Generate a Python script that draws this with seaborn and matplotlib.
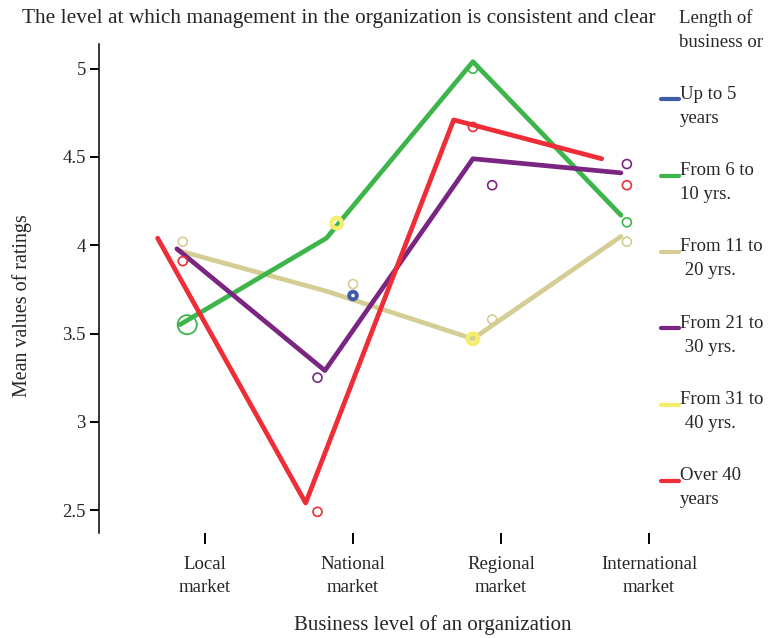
import pandas as pd
import matplotlib
matplotlib.use('Agg')
import matplotlib.pyplot as plt
from matplotlib.lines import Line2D
import seaborn as sns

sns.set_style('white')
plt.rcParams['font.family'] = ['Liberation Serif', 'DejaVu Serif']

# categories on the x axis
markets = ['Local\nmarket', 'National\nmarket', 'Regional\nmarket', 'International\nmarket']

# legend groups and colours
groups = ['Up to 5\nyears', 'From 6 to\n10 yrs.', 'From 11 to\n 20 yrs.',
          'From 21 to\n 30 yrs.', 'From 31 to\n 40 yrs.', 'Over 40\nyears']
colors = ['#3e5ca8', '#3db54a', '#d4ce94', '#7a2581', '#f4ed6e', '#ee2d37']

# lines (the original draws them shifted to the left of the ticks)
tan_line_x = [-0.18, 0.82, 1.81, 2.81]
tan_line_y = [3.97, 3.74, 3.47, 4.05]
green_line_x = [-0.17, 0.82, 1.81, 2.81]
green_line_y = [3.55, 4.04, 5.04, 4.17]
purple_line_x = [-0.19, 0.81, 1.81, 2.81]
purple_line_y = [3.98, 3.29, 4.49, 4.41]
red_line_x = [-0.32, 0.68, 1.68, 2.68]
red_line_y = [4.04, 2.54, 4.71, 4.49]

# point means (hollow circles)
tan_pt_x = [-0.15, 1.00, 1.94, 2.85]
tan_pt_y = [4.02, 3.78, 3.58, 4.02]
red_pt_x = [-0.15, 0.76, 1.81, 2.85]
red_pt_y = [3.91, 2.49, 4.67, 4.34]
purple_pt_x = [0.76, 1.94, 2.85]
purple_pt_y = [3.25, 4.34, 4.46]
green_pt_x = [-0.12, 1.81, 2.85]
green_pt_y = [3.55, 5.00, 4.13]
blue_pt_x = [1.00]
blue_pt_y = [3.715]
yellow_pt_x = [0.89, 1.81]
yellow_pt_y = [4.125, 3.47]

lines = pd.concat([
    pd.DataFrame({'x': tan_line_x, 'y': tan_line_y, 'g': groups[2]}),
    pd.DataFrame({'x': green_line_x, 'y': green_line_y, 'g': groups[1]}),
    pd.DataFrame({'x': purple_line_x, 'y': purple_line_y, 'g': groups[3]}),
    pd.DataFrame({'x': red_line_x, 'y': red_line_y, 'g': groups[5]}),
])
pal = dict(zip(groups, colors))

fig = plt.figure(figsize=(7.69, 6.38), dpi=100)
ax = fig.add_axes([99 / 769, 1 - 533 / 638, 556 / 769, 489 / 638])

sns.lineplot(data=lines, x='x', y='y', hue='g', palette=pal, sort=False,
             estimator=None, linewidth=3.4, legend=False, ax=ax)

# regular hollow markers
for px, py, c in [(tan_pt_x, tan_pt_y, colors[2]), (red_pt_x, red_pt_y, colors[5]),
                  (purple_pt_x, purple_pt_y, colors[3]), (green_pt_x[1:], green_pt_y[1:], colors[1])]:
    sns.scatterplot(x=px, y=py, s=42, facecolors='none', edgecolor=c, linewidth=1.2,
                    zorder=4, legend=False, ax=ax)
# big green one at Local market
sns.scatterplot(x=green_pt_x[:1], y=green_pt_y[:1], s=190, facecolors='none',
                edgecolor=colors[1], linewidth=1.3, zorder=4, legend=False, ax=ax)
# thick rings
sns.scatterplot(x=blue_pt_x, y=blue_pt_y, s=30, facecolors='none', edgecolor=colors[0],
                linewidth=2.8, zorder=5, legend=False, ax=ax)
sns.scatterplot(x=yellow_pt_x, y=yellow_pt_y, s=55, facecolors='none', edgecolor=colors[4],
                linewidth=3.2, zorder=5, legend=False, ax=ax)

ax.set_xlim(-0.716, 3.04)
ax.set_ylim(2.37, 5.14)
ax.set_xticks(range(4))
ax.set_xticklabels(markets, fontsize=13.5, linespacing=1.5)
ax.set_yticks([2.5, 3, 3.5, 4, 4.5, 5])
ax.set_yticklabels(['2.5', '3', '3.5', '4', '4.5', '5'], fontsize=13.5)
ax.tick_params(axis='x', direction='out', length=8, width=1.4, pad=8.5, color='black', bottom=True)
ax.tick_params(axis='y', direction='out', length=6.5, width=1.4, pad=3, color='black', left=True)
for s in ['top', 'right', 'bottom']:
    ax.spines[s].set_visible(False)
ax.spines['left'].set_color('black')
ax.spines['left'].set_linewidth(1.1)
ax.set_xlabel('')
ax.set_ylabel('')

fig.text(22 / 769, 1 - 18 / 638, 'The level at which management in the organization is consistent and clear',
         fontsize=15.4, ha='left', va='center')
fig.text(22 / 769, 1 - 306 / 638, 'Mean values of ratings', fontsize=14.4, rotation=90,
         ha='center', va='center')
fig.text(433 / 769, 1 - 625 / 638, 'Business level of an organization', fontsize=15,
         ha='center', va='center')

# legend drawn by hand
fig.text(679 / 769, 1 - 30 / 638, 'Length of\nbusiness or', fontsize=13.5, ha='left',
         va='center', linespacing=1.55)
for i, (g, c) in enumerate(zip(groups, colors)):
    yc = 99.3 + i * 76.3
    fig.add_artist(Line2D([661 / 769, 679 / 769], [1 - yc / 638, 1 - yc / 638],
                          color=c, linewidth=3, transform=fig.transFigure))
    fig.text(680 / 769, 1 - (yc + 7) / 638, g, fontsize=13.5, ha='left', va='center',
             linespacing=1.55)

fig.savefig('out.png', dpi=100)
